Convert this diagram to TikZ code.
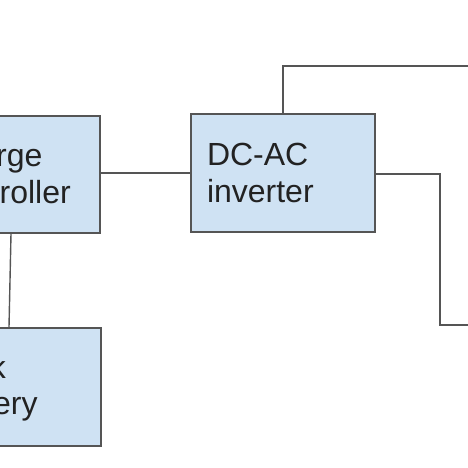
\documentclass[tikz,border=0pt]{standalone}
\usepackage{fontspec}
\setmainfont{Liberation Sans}
\usetikzlibrary{positioning}
\definecolor{boxfill}{HTML}{CFE2F3}
\definecolor{boxline}{HTML}{555555}
\definecolor{wire}{HTML}{555555}
\definecolor{ink}{HTML}{222222}
\tikzset{
  block/.style={draw=boxline, fill=boxfill, line width=1.6pt, minimum height=118pt, inner sep=0pt},
  wiring/.style={draw=wire, line width=1.4pt},
  caption/.style={text=ink, font=\fontsize{32}{37}\selectfont, inner sep=0pt}
}

\begin{document}
\begin{tikzpicture}[x=1pt,y=-1pt]
  \useasboundingbox (0,0) rectangle (468,468);
  \clip (0,0) rectangle (468,468);

  % blocks
  \node[block, minimum width=200pt, minimum height=117pt] (charge) at (0,174.5) {};
  \node[block, caption, minimum width=184pt, align=left, text width=152pt] (inverter) at (283,173) {DC-AC\\inverter};
  \node[block, minimum width=201pt] (battery) at (0.5,387) {};

  % what is left of the cut labels
  \node[caption, anchor=base west] (chargetop) at (-4,166) {rge};
  \node[caption, anchor=base east] (chargebot) at (71,203) {roller};
  \node[caption, anchor=base east] (batterytop) at (6,378) {k};
  \node[caption, anchor=base west] (batterybot) at (-7,414) {ery};

  % wiring
  \coordinate (gridtop) at (470,66);
  \coordinate (bend) at (440,325);
  \coordinate (gridbot) at (470,325);

  \draw[wiring] (inverter.west -| charge.east) -- (inverter.west);
  \draw[wiring] ([xshift=11pt]charge.south) -- ([xshift=8.5pt]battery.north);
  \draw[wiring] (inverter.north) |- (gridtop);
  \draw[wiring] ([yshift=-1pt]inverter.east) -| (bend) -- (gridbot);
\end{tikzpicture}
\end{document}
